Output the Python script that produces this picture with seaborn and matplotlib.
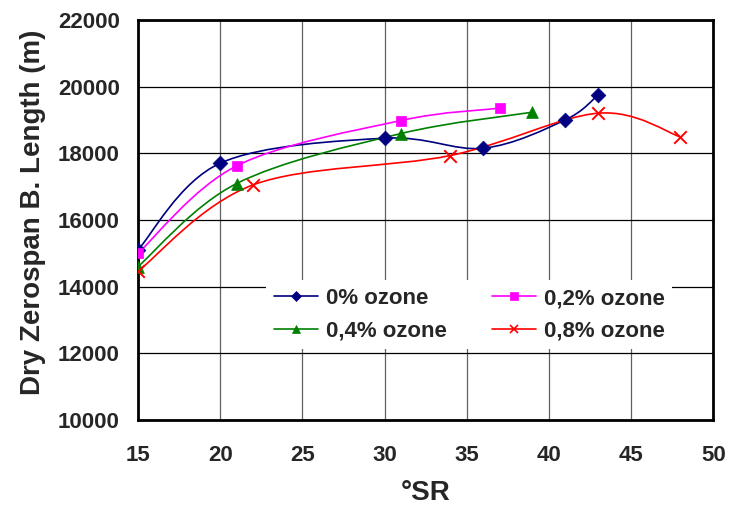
import matplotlib
matplotlib.use("Agg")
import matplotlib.pyplot as plt
import numpy as np
import seaborn as sns
from matplotlib.lines import Line2D
from matplotlib.patches import PathPatch
from matplotlib.path import Path

# values
sr_0 = [15, 20, 30, 36, 41, 43]
len_0 = [15100, 17700, 18450, 18150, 19000, 19750]

sr_02 = [15, 21, 31, 37]
len_02 = [15000, 17620, 18980, 19350]

sr_04 = [15, 21, 31, 39]
len_04 = [14600, 17090, 18590, 19230]

sr_08 = [15, 22, 34, 43, 48]
len_08 = [14460, 17050, 17930, 19200, 18490]

labels = ['0% ozone', '0,2% ozone', '0,4% ozone', '0,8% ozone']
colors = ['#000080', '#FF00FF', '#008000', '#FF0000']
markers = ['D', 's', '^', 'x']
msizes = [7.5, 7.5, 8.5, 9]

x_ticks = [15, 20, 25, 30, 35, 40, 45, 50]
y_ticks = [10000, 12000, 14000, 16000, 18000, 20000, 22000]


def smooth_path(xs, ys):
    # Excel style smoothed line: bezier segments through every point
    pts = np.column_stack([xs, ys]).astype(float)
    n = len(pts)
    verts = [pts[0]]
    codes = [Path.MOVETO]
    for i in range(n - 1):
        p0 = pts[max(i - 1, 0)]
        p1 = pts[i]
        p2 = pts[i + 1]
        p3 = pts[min(i + 2, n - 1)]
        verts += [p1 + (p2 - p0) / 6, p2 - (p3 - p1) / 6, p2]
        codes += [Path.CURVE4] * 3
    return Path(verts, codes)


sns.set_style("white")
plt.rcParams['font.family'] = ['Liberation Sans', 'DejaVu Sans']
plt.rcParams['font.weight'] = 'bold'

fig = plt.figure(figsize=(7.3, 5.15), dpi=100)
ax = fig.add_axes([0.189, 0.1845, 0.788, 0.777])

series = [(sr_0, len_0), (sr_02, len_02), (sr_04, len_04), (sr_08, len_08)]
for (xs, ys), c, m, ms in zip(series, colors, markers, msizes):
    patch = PathPatch(smooth_path(xs, ys), facecolor='none', edgecolor=c,
                      lw=1.2, transform=ax.transData, zorder=3)
    ax.add_patch(patch)
    if m == 'x':
        sns.scatterplot(x=xs, y=ys, marker=m, color=c, s=ms ** 2,
                        linewidth=1.4, ax=ax, zorder=4)
    else:
        sns.scatterplot(x=xs, y=ys, marker=m, color=c, s=ms ** 2,
                        edgecolor=c, linewidth=0.5, ax=ax, zorder=4)

ax.set_xlim(15, 50)
ax.set_ylim(10000, 22000)
ax.set_xticks(x_ticks)
ax.set_yticks(y_ticks)
ax.tick_params(axis='both', direction='out', length=5, width=1,
               labelsize=16, color='#404040')
ax.tick_params(axis='x', pad=13)
ax.tick_params(axis='y', pad=8)
for lab in ax.get_xticklabels() + ax.get_yticklabels():
    lab.set_fontweight('bold')

ax.grid(True, axis='y', color='black', lw=0.9, zorder=1)
ax.grid(True, axis='x', color='#606060', lw=0.9, zorder=1)
ax.set_axisbelow(True)
for sp in ax.spines.values():
    sp.set_color('black')
    sp.set_linewidth(2)
    sp.set_visible(True)

ax.set_xlabel('°SR', fontsize=20, fontweight='bold')
ax.set_ylabel('Dry Zerospan B. Length (m)', fontsize=20, fontweight='bold')
ax.xaxis.set_label_coords(0.5, -0.15)
ax.yaxis.set_label_coords(-0.16, 0.52)

handles = [Line2D([], [], color=c, marker=m, markersize=5.5, lw=1.2,
                  mew=1.2 if m == 'x' else 0.5, label=l)
           for c, m, l in zip(colors, markers, labels)]
# legend is filled row by row in the original
order = [0, 2, 1, 3]
leg = ax.legend(handles=[handles[i] for i in order], ncol=2, loc='center',
                bbox_to_anchor=(0.576, 0.263), frameon=True, fancybox=False,
                framealpha=1, edgecolor='none', facecolor='white',
                prop={'size': 16, 'weight': 'bold'}, handlelength=2,
                handletextpad=0.35, columnspacing=2.0, labelspacing=0.5,
                borderpad=0.35)
leg.set_zorder(10)

fig.savefig('out.png', dpi=100)
